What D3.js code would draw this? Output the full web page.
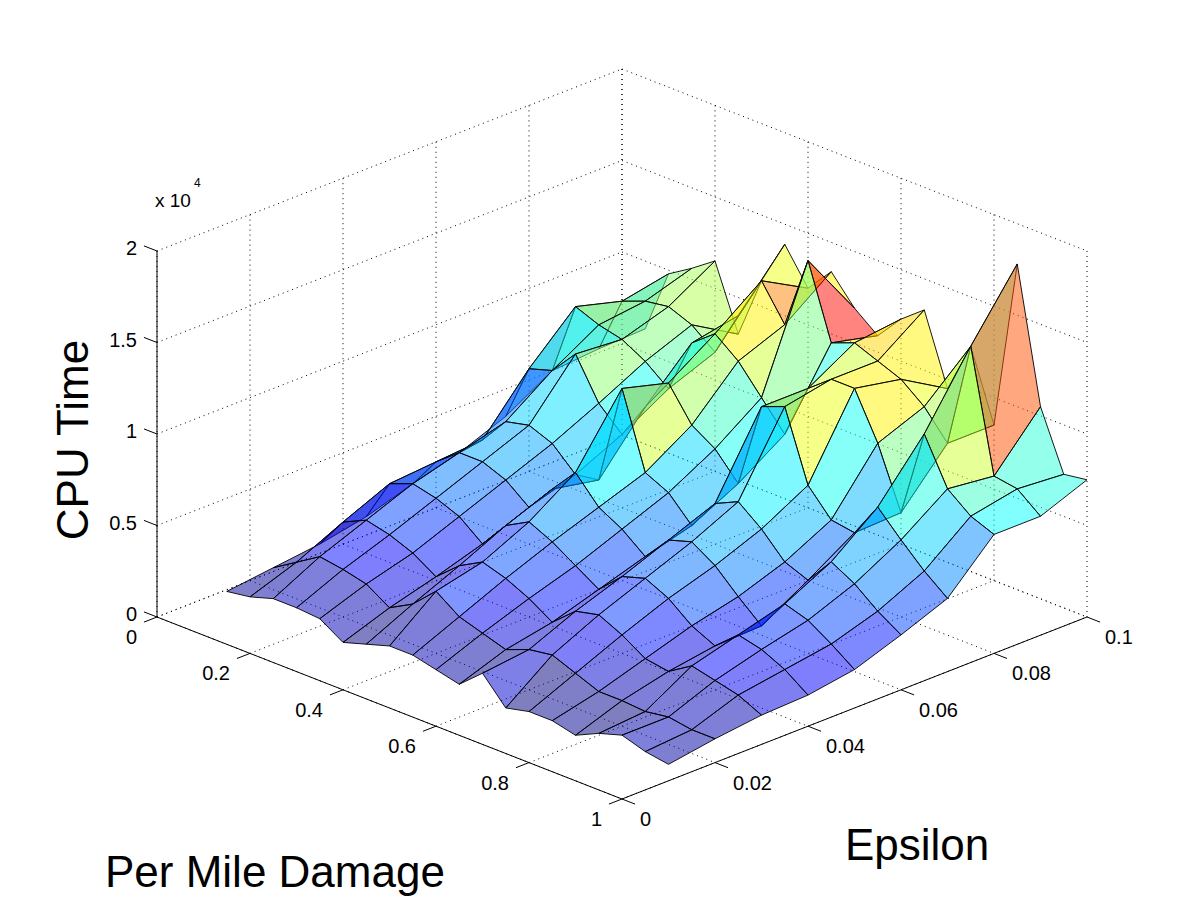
<!DOCTYPE html>
<html>
<head>
<meta charset="utf-8">
<script src="https://cdn.jsdelivr.net/npm/d3@7"></script>
<style>
  body { margin: 0; background: #fff; }
  text { font-family: "Liberation Sans", Arial, Helvetica, sans-serif; fill: #000; }
</style>
</head>
<body>
<div id="chart"></div>
<script>
// grid of the surface: per mile damage along x, epsilon along y
var damage = [0.05, 0.10, 0.15, 0.20, 0.25, 0.30, 0.35, 0.40, 0.45, 0.50,
              0.55, 0.60, 0.65, 0.70, 0.75, 0.80, 0.85, 0.90, 0.95, 1.00];
var epsilon = [0.01, 0.02, 0.03, 0.04, 0.05, 0.06, 0.07, 0.08, 0.09, 0.10];

// CPU time (x 10^4), one row per epsilon value, one column per damage value
var cpuE01 = [0.09, 0.11, 0.15, 0.15, 0.14, 0.06, 0.10, 0.14, 0.14, 0.11, 0.08, 0.19, 0.05, 0.08, 0.08, 0.05, 0.11, 0.15, 0.11, 0.09];
var cpuE02 = [0.12, 0.20, 0.28, 0.26, 0.23, 0.15, 0.22, 0.34, 0.25, 0.21, 0.17, 0.22, 0.24, 0.19, 0.14, 0.14, 0.13, 0.15, 0.13, 0.13];
var cpuE03 = [0.15, 0.32, 0.38, 0.35, 0.30, 0.22, 0.33, 0.40, 0.36, 0.30, 0.22, 0.33, 0.36, 0.30, 0.22, 0.20, 0.28, 0.25, 0.22, 0.16];
var cpuE04 = [0.20, 0.43, 0.48, 0.45, 0.40, 0.30, 0.45, 0.52, 0.46, 0.38, 0.30, 0.42, 0.46, 0.40, 0.30, 0.24, 0.35, 0.32, 0.26, 0.17];
var cpuE05 = [0.28, 0.45, 0.55, 0.55, 0.50, 0.40, 0.55, 0.69, 0.55, 0.48, 0.38, 0.52, 0.56, 0.48, 0.36, 0.25, 0.42, 0.38, 0.30, 0.21];
var cpuE06 = [0.35, 0.47, 0.62, 0.65, 0.60, 0.48, 0.50, 1.05, 0.64, 0.58, 0.45, 0.62, 0.68, 0.58, 0.45, 0.40, 0.55, 0.48, 0.38, 0.30];
var cpuE07 = [0.45, 0.76, 0.80, 0.94, 0.72, 0.60, 0.80, 0.98, 0.80, 0.72, 0.58, 1.05, 1.10, 0.72, 0.58, 0.56, 0.75, 0.62, 0.50, 0.40];
var cpuE08 = [0.60, 1.00, 0.95, 0.92, 0.85, 0.75, 1.05, 1.15, 1.05, 0.90, 0.75, 1.05, 1.15, 1.15, 0.90, 0.57, 1.05, 0.80, 0.70, 0.65];
var cpuE09 = [0.62, 0.93, 0.98, 1.00, 0.95, 0.85, 1.10, 1.34, 1.15, 1.55, 1.15, 1.20, 1.15, 1.10, 1.00, 0.85, 1.43, 0.77, 0.75, 0.65];
var cpuE10 = [0.63, 0.98, 1.06, 1.15, 0.80, 1.14, 1.39, 1.20, 1.34, 1.19, 1.09, 1.23, 1.33, 0.95, 1.23, 0.85, 1.78, 1.05, 0.73, 0.75];
var cpuRows = [cpuE01, cpuE02, cpuE03, cpuE04, cpuE05, cpuE06, cpuE07, cpuE08, cpuE09, cpuE10];

var damageTicks = [0, 0.2, 0.4, 0.6, 0.8, 1];
var damageTickLabels = ["0", "0.2", "0.4", "0.6", "0.8", "1"];
var epsilonTicks = [0, 0.02, 0.04, 0.06, 0.08, 0.1];
var epsilonTickLabels = ["0", "0.02", "0.04", "0.06", "0.08", "0.1"];
var cpuTicks = [0, 0.5, 1, 1.5, 2];
var cpuTickLabels = ["0", "0.5", "1", "1.5", "2"];

var width = 1200, height = 900;
var svg = d3.select("#chart").append("svg")
    .attr("width", width)
    .attr("height", height);

// box projection (orthographic, MATLAB default 3-D view)
var origin = {x: 157, y: 617};
var xScale = d3.scaleLinear().domain([0, 1]).range([0, 1]);
var eScale = d3.scaleLinear().domain([0, 0.1]).range([0, 1]);
var zScale = d3.scaleLinear().domain([0, 2]).range([0, 1]);
var sideX = 465, sideY = 182, tall = 366;

function project(x, e, z) {
  var u = xScale(x), v = eScale(e), w = zScale(z);
  return [origin.x + sideX*u + sideX*v, origin.y + sideY*u - sideY*v - tall*w];
}
function depth(x, e, z) {
  return 428*(xScale(x) - eScale(e)) + 157*zScale(z);
}

// ---- grid lines on the three back planes
var grid = svg.append("g")
    .attr("fill", "none")
    .attr("stroke", "#000")
    .attr("stroke-width", 1)
    .attr("stroke-dasharray", "1,4");

function seg(p, q) {
  grid.append("line")
    .attr("x1", p[0]).attr("y1", p[1])
    .attr("x2", q[0]).attr("y2", q[1]);
}
damageTicks.forEach(function(t) {
  seg(project(t, 0, 0), project(t, 0.1, 0));
  seg(project(t, 0.1, 0), project(t, 0.1, 2));
});
epsilonTicks.forEach(function(t) {
  seg(project(0, t, 0), project(1, t, 0));
  seg(project(0, t, 0), project(0, t, 2));
});
cpuTicks.forEach(function(t) {
  seg(project(0, 0, t), project(0, 0.1, t));
  seg(project(0, 0.1, t), project(1, 0.1, t));
});

// ---- surface faces, flat coloured from the first corner, jet colormap
var allZ = d3.merge(cpuRows);
var cScale = d3.scaleLinear().domain(d3.extent(allZ)).range([0, 1]).clamp(true);
function jet(t) {
  function c(v) { return Math.max(0, Math.min(1, v)); }
  var r = c(1.5 - Math.abs(4*t - 3)), g = c(1.5 - Math.abs(4*t - 2)), b = c(1.5 - Math.abs(4*t - 1));
  return d3.rgb(r*255, g*255, b*255).toString();
}

var faces = [];
for (var j = 0; j < epsilon.length - 1; j++) {
  for (var i = 0; i < damage.length - 1; i++) {
    var corners = [[i, j], [i+1, j], [i+1, j+1], [i, j+1]];
    var pts = corners.map(function(c) { return project(damage[c[0]], epsilon[c[1]], cpuRows[c[1]][c[0]]); });
    var d = d3.mean(corners, function(c) { return depth(damage[c[0]], epsilon[c[1]], cpuRows[c[1]][c[0]]); });
    faces.push({pts: pts, depth: d, color: jet(cScale(cpuRows[j][i]))});
  }
}
faces.sort(function(a, b) { return a.depth - b.depth; });

svg.append("g").selectAll("path")
  .data(faces)
  .enter()
  .append("path")
    .attr("d", function(d) { return "M" + d.pts.join("L") + "Z"; })
    .attr("fill", function(d) { return d.color; })
    .attr("fill-opacity", 0.5)
    .attr("stroke", "#000")
    .attr("stroke-width", 0.9)
    .attr("stroke-linejoin", "round");

// ---- axes
var axes = svg.append("g").attr("stroke", "#000").attr("stroke-width", 1).attr("fill", "none");
function axisLine(p, q) {
  axes.append("line").attr("x1", p[0]).attr("y1", p[1]).attr("x2", q[0]).attr("y2", q[1]);
}
axisLine(project(0, 0, 0), project(1, 0, 0));
axisLine(project(1, 0, 0), project(1, 0.1, 0));
axisLine(project(0, 0, 0), project(0, 0, 2));

var tickLen = 14;
var dirE = [-0.931, 0.364];   // pointing towards -epsilon
var dirX = [-0.931, -0.364];  // pointing towards -damage
damageTicks.forEach(function(t, k) {
  var p = project(t, 0, 0);
  axisLine(p, [p[0] + tickLen*dirE[0], p[1] + tickLen*dirE[1]]);
  svg.append("text")
    .attr("x", p[0] - 20).attr("y", p[1] + 27)
    .attr("text-anchor", "end")
    .style("font-size", "20px")
    .text(damageTickLabels[k]);
});
epsilonTicks.forEach(function(t, k) {
  var p = project(1, t, 0);
  axisLine(p, [p[0] - tickLen*dirX[0], p[1] - tickLen*dirX[1]]);
  svg.append("text")
    .attr("x", p[0] + 18).attr("y", p[1] + 27)
    .attr("text-anchor", "start")
    .style("font-size", "20px")
    .text(epsilonTickLabels[k]);
});
cpuTicks.forEach(function(t, k) {
  var p = project(0, 0, t);
  axisLine(p, [p[0] + tickLen*dirX[0], p[1] + tickLen*dirX[1]]);
  svg.append("text")
    .attr("x", p[0] - 20).attr("y", p[1] + 4)
    .attr("text-anchor", "end")
    .style("font-size", "20px")
    .text(cpuTickLabels[k]);
});

// exponent label
var expo = svg.append("text").attr("x", 155).attr("y", 207).style("font-size", "19px");
expo.append("tspan").text("x 10");
expo.append("tspan").attr("dx", 3).attr("dy", -20).style("font-size", "12px").text("4");

// axis titles
svg.append("text")
  .attr("transform", "translate(88,440) rotate(-90)")
  .attr("text-anchor", "middle")
  .style("font-size", "44px")
  .text("CPU Time");
svg.append("text")
  .attr("x", 105).attr("y", 887)
  .style("font-size", "44px")
  .text("Per Mile Damage");
svg.append("text")
  .attr("x", 845).attr("y", 860)
  .style("font-size", "44px")
  .text("Epsilon");
</script>
</body>
</html>
